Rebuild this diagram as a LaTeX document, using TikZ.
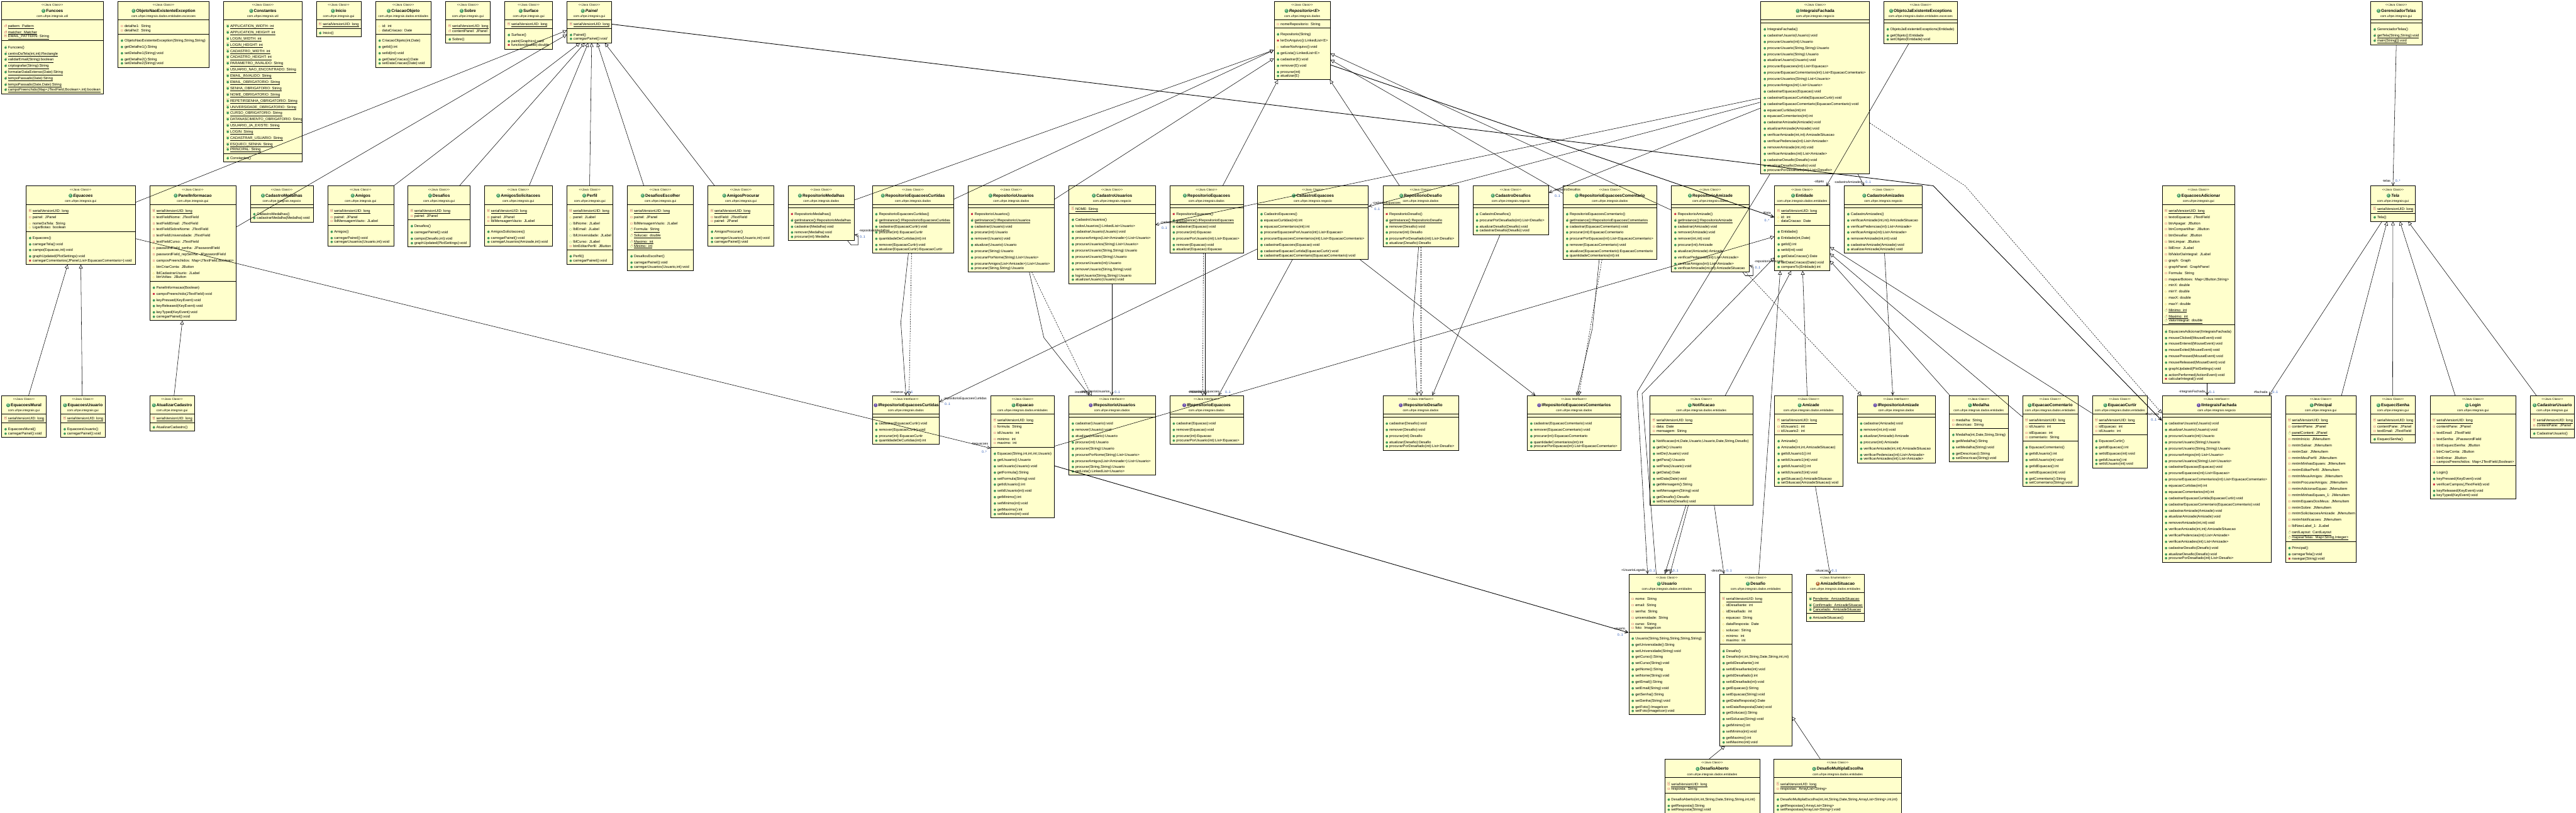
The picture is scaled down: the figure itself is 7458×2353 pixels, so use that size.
\documentclass[tikz,border=0pt]{standalone}
\usepackage{fontspec}
\setmainfont{Liberation Sans}
\newfontfamily\uifont{Liberation Sans}
\newfontfamily\symf{DejaVu Sans}
\usetikzlibrary{shapes.multipart,arrows.meta,calc}
\definecolor{boxfill}{HTML}{FFFFCC}
\definecolor{pubg}{HTML}{3E9A5C}
\definecolor{privr}{HTML}{D0304A}
\definecolor{protc}{HTML}{D8A000}
\definecolor{ifc}{HTML}{6A4FA8}
\definecolor{enc}{HTML}{B0602A}
\definecolor{multc}{HTML}{1E4FB0}
\newcommand\stL{<\kern0pt<}
\newcommand\stR{>\kern0pt>}
\newcommand\clsicon[2]{\tikz[baseline=-3.6pt]{\fill[#1] (0pt,0pt) circle (5.6pt);\pgftext{\textcolor{white}{\fontsize{7.5}{7.5}\selectfont\bfseries #2}}}}
\newcommand\kindC{\def\stname{Java Class}\def\iccol{pubg}\def\icl{C}}
\newcommand\kindI{\def\stname{Java Interface}\def\iccol{ifc}\def\icl{I}}
\newcommand\kindE{\def\stname{Java Enumeration}\def\iccol{enc}\def\icl{E}}
\newcommand\symg[2]{{\symf\fontsize{#1}{#1}\selectfont #2}}
\newcommand\ipub{\textcolor{pubg}{\symg{9}{●}}}
\newcommand\ipriv{\textcolor{privr}{\symg{11}{▫}}}
\newcommand\iprivm{\textcolor{privr}{\symg{11}{▪}}}
\newcommand\iprot{\textcolor{protc}{\symg{8}{◇}}}
\newcommand\ipkg{\textcolor{pubg}{\symg{8}{○}}}
\newcommand\supr[2]{\rlap{\kern3.5pt\raisebox{4pt}{\fontsize{6}{6}\selectfont\textcolor{#1}{#2}}}}
\newcommand\isf{\rlap{\raisebox{4pt}{\fontsize{6}{6}\selectfont\textcolor{privr}{S}\kern0.5pt\textcolor{pubg}{F}}}\ipriv}
\newcommand\isfpub{\rlap{\raisebox{4pt}{\fontsize{6}{6}\selectfont\textcolor{privr}{S}\kern0.5pt\textcolor{pubg}{F}}}\ipub}
\newcommand\mrow[2]{\par\noindent\hbox{\rule[-3pt]{0pt}{12pt}\makebox[15pt][l]{\hspace{4pt}#1}#2}}
\newcommand\urow[2]{\par\noindent\hbox{\rule[-3pt]{0pt}{12pt}\makebox[15pt][l]{\hspace{4pt}#1}\underline{#2}}}
\newcommand\mPub[1]{\mrow{\ipub}{#1}}
\newcommand\mCtor[1]{\mrow{\supr{pubg}{c}\ipub}{#1}}
\newcommand\mPCtor[1]{\mrow{\supr{pubg}{c}\iprivm}{#1}}
\newcommand\mPriv[1]{\mrow{\ipriv}{#1}}
\newcommand\mPrivM[1]{\mrow{\iprivm}{#1}}
\newcommand\mProt[1]{\mrow{\iprot}{#1}}
\newcommand\mPkg[1]{\mrow{\ipkg}{#1}}
\newcommand\mFPriv[1]{\mrow{\supr{pubg}{F}\ipriv}{#1}}
\newcommand\mSF[1]{\urow{\isf}{#1}}
\newcommand\mSFpub[1]{\urow{\isfpub}{#1}}
\newcommand\mSPub[1]{\urow{\supr{privr}{S}\ipub}{#1}}
\newcommand\mSPriv[1]{\urow{\supr{privr}{S}\ipriv}{#1}}
\newcommand\mSPkg[1]{\urow{\supr{privr}{S}\ipkg}{#1}}
\tikzset{
  umlbox/.style={draw=black,line width=1.1pt,fill=boxfill,rectangle split,rectangle split parts=3,inner xsep=4pt,inner ysep=4pt,font=\uifont},
  conn/.style={line width=1pt,draw=black},
  gen/.style={conn,-{Triangle[open,length=11pt,width=11pt]}},
  real/.style={gen,dash pattern=on 4pt off 3pt},
  assoc/.style={conn,-{Straight Barb[length=9pt,width=9pt]}},
  lbl/.style={font=\uifont\fontsize{9.5}{11}\selectfont,inner sep=1pt},
  mult/.style={lbl,text=multc},
}
\newcommand\umlbox[9]{%
  #5%
  \pgfmathsetmacro\boxtw{#4-8}%
  \node[umlbox,text width=\boxtw pt,anchor=north west] (#1) at (#2,#3) {%
    \centering\rule{0pt}{9pt}{\fontsize{8.5}{10}\selectfont\stL\stname\stR}\par
    {\fontsize{12}{18}\selectfont\bfseries\clsicon{\iccol}{\icl}\,#6\par}%
    {\fontsize{9}{15}\selectfont #7\rule[-2pt]{0pt}{0pt}\par}%
    \nodepart{second}\fontsize{10.5}{18}\selectfont #8%
    \nodepart{third}\fontsize{10.5}{18}\selectfont #9};}
\begin{document}
\begin{tikzpicture}[x=1pt,y=-1pt]
\path[use as bounding box,fill=white] (0,0) rectangle (7458,2353);
% ---------------- top row ----------------
\umlbox{funcoes}{4}{3}{294}{\kindC}{Funcoes}{com.ufrpe.integrais.util}
{\mSPriv{pattern: Pattern}\mSPriv{matcher: Matcher}\mSF{EMAIL\_PATTERN: String}}
{\mCtor{Funcoes()}\mSPub{centroDaTela(int,int):Rectangle}\mSPub{validarEmail(String):boolean}\mSPub{criptografar(String):String}\mSPub{formatarDataExtenso(Date):String}\mSPub{tempoPassado(Date):String}\mSPub{tempoPassado(Date,Date):String}\mSPub{campoPreenchido(Map<JTextField,Boolean>,int):boolean}}
\umlbox{objnao}{341}{3}{264}{\kindC}{ObjetoNaoExistenteException}{com.ufrpe.integrais.dados.entidades.excecoes}
{\mPriv{detalhe1: String}\mPriv{detalhe2: String}}
{\mCtor{ObjetoNaoExistenteException(String,String,String)}\mPub{getDetalhe1():String}\mPub{setDetalhe1(String):void}\mPub{getDetalhe2():String}\mPub{setDetalhe2(String):void}}
\umlbox{constantes}{647}{3}{227}{\kindC}{Constantes}{com.ufrpe.integrais.util}
{\mSFpub{APPLICATION\_WIDTH: int}\mSFpub{APPLICATION\_HEIGHT: int}\mSFpub{LOGIN\_WIDTH: int}\mSFpub{LOGIN\_HEIGHT: int}\mSFpub{CADASTRO\_WIDTH: int}\mSFpub{CADASTRO\_HEIGHT: int}\mSFpub{PARAMETRO\_INVALIDO: String}\mSFpub{USUARIO\_NAO\_ENCONTRADO: String}\mSFpub{EMAIL\_INVALIDO: String}\mSFpub{EMAIL\_OBRIGATORIO: String}\mSFpub{SENHA\_OBRIGATORIO: String}\mSFpub{NOME\_OBRIGATORIO: String}\mSFpub{REPETIRSENHA\_OBRIGATORIO: String}\mSFpub{UNIVERSIDADE\_OBRIGATORIO: String}\mSFpub{CURSO\_OBRIGATORIO: String}\mSFpub{DATANASCIMENTO\_OBRIGATORIO: String}\mSFpub{USUARIO\_JA\_EXISTE: String}\mSFpub{LOGIN: String}\mSFpub{CADASTRAR\_USUARIO: String}\mSFpub{ESQUECI\_SENHA: String}\mSFpub{PRINCIPAL: String}}
{\mCtor{Constantes()}}
\umlbox{inicio}{915}{3}{130}{\kindC}{Inicio}{com.ufrpe.integrais.gui}
{\mSF{serialVersionUID: long}}{\mCtor{Inicio()}}
\umlbox{criacao}{1087}{3}{160}{\kindC}{CriacaoObjeto}{com.ufrpe.integrais.dados.entidades}
{\mProt{id: int}\mProt{dataCriacao: Date}}
{\mCtor{CriacaoObjeto(int,Date)}\mPub{getId():int}\mPub{setId(int):void}\mPub{getDataCriacao():Date}\mPub{setDataCriacao(Date):void}}
\umlbox{sobre}{1290}{3}{128}{\kindC}{Sobre}{com.ufrpe.integrais.gui}
{\mSF{serialVersionUID: long}\mFPriv{contentPanel: JPanel}}{\mCtor{Sobre()}}
\umlbox{surface}{1461}{3}{138}{\kindC}{Surface}{com.ufrpe.integrais.gui}
{\mSF{serialVersionUID: long}}{\mCtor{Surface()}\mPub{paint(Graphics):void}\mPrivM{function(double):double}}
\umlbox{painel}{1641}{3}{129}{\kindC}{\itshape Painel}{com.ufrpe.integrais.gui}
{\mSF{serialVersionUID: long}}{\mCtor{Painel()}\mPub{\itshape carregarPainel():void}}
\umlbox{repositorio}{3688}{3}{163}{\kindC}{\itshape Repositorio<E>}{com.ufrpe.integrais.dados}
{\mPriv{nomeRepositorio: String}}
{\mCtor{Repositorio(String)}\mPrivM{lerDoArquivo():LinkedList<E>}\mProt{salvarNoArquivo():void}\mPub{getLista():LinkedList<E>}\mPub{cadastrar(E):void}\mPub{remover(E):void}\mPub{procurar(int)}\mPub{atualizar(E)}}
\umlbox{integraisfachada}{5097}{3}{315}{\kindC}{IntegraisFachada}{com.ufrpe.integrais.negocio}{}
{\mCtor{IntegraisFachada()}\mPub{cadastrarUsuario(Usuario):void}\mPub{procurarUsuario(int):Usuario}\mPub{procurarUsuario(String,String):Usuario}\mPub{procurarUsuario(String):Usuario}\mPub{atualizarUsuario(Usuario):void}\mPub{procurarEquacoes(int):List<Equacao>}\mPub{procurarEquacaoComentarios(int):List<EquacaoComentario>}\mPub{procurarUsuarios(String):List<Usuario>}\mPub{procurarAmigos(int):List<Usuario>}\mPub{cadastrarEquacao(Equacao):void}\mPub{cadastrarEquacaoCurtida(EquacaoCurtir):void}\mPub{cadastrarEquacaoComentario(EquacaoComentario):void}\mPub{equacaoCurtidas(int):int}\mPub{equacaoComentarios(int):int}\mPub{cadastrarAmizade(Amizade):void}\mPub{atualizarAmizade(Amizade):void}\mPub{verificarAmizade(int,int):AmizadeSituacao}\mPub{verificarPedencias(int):List<Amizade>}\mPub{removerAmizade(int,int):void}\mPub{verificarAmizades(int):List<Amizade>}\mPub{cadastrarDesafio(Desafio):void}\mPub{atualizarDesafio(Desafio):void}\mPub{procurarPorDesafiado(int):List<Desafio>}}
\umlbox{objja}{5453}{3}{214}{\kindC}{ObjetoJaExistenteExceptions}{com.ufrpe.integrais.dados.entidades.excecoes}{}
{\mCtor{ObjetoJaExistenteExceptions(Entidade)}\mPub{getObjeto():Entidade}\mPub{setObjeto(Entidade):void}}
\umlbox{gerenciador}{6863}{3}{148}{\kindC}{GerenciadorTelas}{com.ufrpe.integrais.gui}{}
{\mCtor{GerenciadorTelas()}\mSPub{getTela(String,String):void}\mSPub{main(String[]):void}}
% ---------------- middle row ----------------
\umlbox{equacoes}{75}{538}{316}{\kindC}{\itshape Equacoes}{com.ufrpe.integrais.gui}
{\mSF{serialVersionUID: long}\mPriv{painel: JPanel}\mProt{nomeDaTela: String}\mProt{LigarBotao: boolean}}
{\mCtor{Equacoes()}\mPub{carregarTela():void}\mPub{campo(Equacao,int):void}\mPub{graphUpdated(PlotSettings):void}\mPrivM{carregarComentarios(JPanel,List<EquacaoComentario>):void}}
\umlbox{panelinfo}{433}{538}{249}{\kindC}{PanelInformacao}{com.ufrpe.integrais.gui}
{\mSF{serialVersionUID: long}\mPriv{textFieldNome: JTextField}\mPriv{textFieldEmail: JTextField}\mPriv{textFieldSobreNome: JTextField}\mPriv{textFieldUniversidade: JTextField}\mPriv{textFieldCurso: JTextField}\mPriv{passwordField\_senha: JPasswordField}\mPriv{passwordField\_repSenha: JPasswordField}\mPriv{camposPreenchidos: Map<JTextField,Boolean>}\mProt{btnCriarConta: JButton}\mProt{lblCadastrarUsurio: JLabel}\mProt{btnVoltas: JButton}}
{\mCtor{PanelInformacao(Boolean)}\mPrivM{campoPreenchido(JTextField):void}\mPub{keyPressed(KeyEvent):void}\mPub{keyReleased(KeyEvent):void}\mPub{keyTyped(KeyEvent):void}\mPub{carregarPainel():void}}
\umlbox{cadmedalhas}{724}{538}{182}{\kindC}{CadastroMedalhas}{com.ufrpe.integrais.negocio}{}
{\mCtor{CadastroMedalhas()}\mPub{cadastrarMedalha(Medalha):void}}
\umlbox{amigos}{948}{538}{191}{\kindC}{Amigos}{com.ufrpe.integrais.gui}
{\mSF{serialVersionUID: long}\mPriv{painel: JPanel}\mPriv{lblMensagemVazio: JLabel}}
{\mCtor{Amigos()}\mPub{carregarPainel():void}\mPub{carregarUsuarios(Usuario,int):void}}
\umlbox{desafios}{1180}{538}{181}{\kindC}{Desafios}{com.ufrpe.integrais.gui}
{\mSF{serialVersionUID: long}\mPriv{painel: JPanel}}
{\mCtor{Desafios()}\mPub{carregarPainel():void}\mPub{campo(Desafio,int):void}\mPub{graphUpdated(PlotSettings):void}}
\umlbox{amigossol}{1402}{538}{196}{\kindC}{AmigosSolicitacoes}{com.ufrpe.integrais.gui}
{\mSF{serialVersionUID: long}\mPriv{painel: JPanel}\mPriv{lblMensagemVazio: JLabel}}
{\mCtor{AmigosSolicitacoes()}\mPub{carregarPainel():void}\mPub{carregarUsuarios(Amizade,int):void}}
\umlbox{perfil}{1640}{538}{134}{\kindC}{Perfil}{com.ufrpe.integrais.gui}
{\mSF{serialVersionUID: long}\mProt{panel: JLabel}\mPkg{lblNome: JLabel}\mPkg{lblEmail: JLabel}\mPkg{lblUniversidade: JLabel}\mPkg{lblCurso: JLabel}\mPriv{btnEditarPerfil: JButton}}
{\mCtor{Perfil()}\mPub{carregarPainel():void}}
\umlbox{desafiosesc}{1816}{538}{191}{\kindC}{DesafiosEscolher}{com.ufrpe.integrais.gui}
{\mSF{serialVersionUID: long}\mPriv{painel: JPanel}\mPriv{lblMensagemVazio: JLabel}\mSPkg{Formula: String}\mSPkg{Solucao: double}\mSPkg{Maximo: int}\mSPkg{Minimo: int}}
{\mCtor{DesafiosEscolher()}\mPub{carregarPainel():void}\mPub{carregarUsuarios(Usuario,int):void}}
\umlbox{amigosproc}{2049}{538}{191}{\kindC}{AmigosProcurar}{com.ufrpe.integrais.gui}
{\mSF{serialVersionUID: long}\mPriv{textField: JTextField}\mPriv{painel: JPanel}}
{\mCtor{AmigosProcurar()}\mPub{carregarUsuarios(Usuario,int):void}\mPub{carregarPainel():void}}
\umlbox{repomedalhas}{2281}{538}{192}{\kindC}{RepositorioMedalhas}{com.ufrpe.integrais.dados}{}
{\mPCtor{RepositorioMedalhas()}\mSPub{getInstance():RepositorioMedalhas}\mPub{cadastrar(Medalha):void}\mPub{remover(Medalha):void}\mPub{procurar(int):Medalha}}
\umlbox{repoeqcurt}{2525}{538}{235}{\kindC}{RepositorioEquacoesCurtidas}{com.ufrpe.integrais.dados}{}
{\mCtor{RepositorioEquacoesCurtidas()}\mSPub{getInstance():IRepositorioEquacoesCurtidas}\mPub{cadastrar(EquacaoCurtir):void}\mPub{procurar(int):EquacaoCurtir}\mPub{quantidadeDeCurtidas(int):int}\mPub{remover(EquacaoCurtir):void}\mPub{atualizar(EquacaoCurtir):EquacaoCurtir}}
\umlbox{repousuarios}{2802}{538}{250}{\kindC}{RepositorioUsuarios}{com.ufrpe.integrais.dados}{}
{\mPCtor{RepositorioUsuarios()}\mSPub{getInstance():IRepositorioUsuarios}\mPub{cadastrar(Usuario):void}\mPub{procurar(int):Usuario}\mPub{remover(Usuario):void}\mPub{atualizar(Usuario):Usuario}\mPub{procurar(String):Usuario}\mPub{procurarPorNome(String):List<Usuario>}\mPub{procurarAmigos(List<Amizade>):List<Usuario>}\mPub{procurar(String,String):Usuario}}
\umlbox{cadusuarios}{3094}{538}{250}{\kindC}{CadastroUsuarios}{com.ufrpe.integrais.negocio}
{\mSF{NOME: String}}
{\mCtor{CadastroUsuarios()}\mPub{todosUsuarios():LinkedList<Usuario>}\mPub{cadastrarUsuario(Usuario):void}\mPub{procurarAmigos(List<Amizade>):List<Usuario>}\mPub{procurarUsuarios(String):List<Usuario>}\mPub{procurarUsuario(String,String):Usuario}\mPub{procurarUsuario(String):Usuario}\mPub{procurarUsuario(int):Usuario}\mPub{removerUsuario(String,String):void}\mPub{loginUsuario(String,String):Usuario}\mPub{atualizarUsuario(Usuario):void}}
\umlbox{repoequacoes}{3386}{538}{213}{\kindC}{RepositorioEquacoes}{com.ufrpe.integrais.dados}{}
{\mPCtor{RepositorioEquacoes()}\mSPub{getInstance():IRepositorioEquacoes}\mPub{cadastrar(Equacao):void}\mPub{procurar(int):Equacao}\mPub{procurarPorUsuario(int):List<Equacao>}\mPub{remover(Equacao):void}\mPub{atualizar(Equacao):Equacao}}
\umlbox{cadequacoes}{3640}{538}{321}{\kindC}{CadastroEquacoes}{com.ufrpe.integrais.negocio}{}
{\mCtor{CadastroEquacoes()}\mPub{equacaoCurtidas(int):int}\mPub{equacaoComentarios(int):int}\mPub{procurarEquacoesPorUsuario(int):List<Equacao>}\mPub{procurarEquacoesComentarios(int):List<EquacaoComentario>}\mPub{cadastrarEquacoes(Equacao):void}\mPub{cadastrarEquacaoCurtida(EquacaoCurtir):void}\mPub{cadastrarEquacaoComentario(EquacaoComentario):void}}
\umlbox{repodesafio}{4003}{538}{219}{\kindC}{RepositorioDesafio}{com.ufrpe.integrais.dados}{}
{\mPCtor{RepositorioDesafio()}\mSPub{getInstance():RepositorioDesafio}\mPub{remover(Desafio):void}\mPub{procurar(int):Desafio}\mPub{procurarPorDesafiado(int):List<Desafio>}\mPub{atualizar(Desafio):Desafio}}
\umlbox{caddesafios}{4264}{538}{219}{\kindC}{CadastroDesafios}{com.ufrpe.integrais.negocio}{}
{\mCtor{CadastroDesafios()}\mPub{procurarPorDesafiado(int):List<Desafio>}\mPub{atualizarDesafio(Desafio):void}\mPub{cadastrarDesafio(Desafio):void}}
\umlbox{repoeqcom}{4525}{538}{271}{\kindC}{RepositorioEquacoesComentario}{com.ufrpe.integrais.dados}{}
{\mCtor{RepositorioEquacoesComentario()}\mSPub{getInstance():IRepositorioEquacoesComentarios}\mPub{cadastrar(EquacaoComentario):void}\mPub{procurar(int):EquacaoComentario}\mPub{procurarPorEquacao(int):List<EquacaoComentario>}\mPub{remover(EquacaoComentario):void}\mPub{atualizar(EquacaoComentario):EquacaoComentario}\mPub{quantidadeComentarios(int):int}}
\umlbox{repoamizade}{4838}{538}{226}{\kindC}{RepositorioAmizade}{com.ufrpe.integrais.dados}{}
{\mPCtor{RepositorioAmizade()}\mSPub{getInstance():RepositorioAmizade}\mPub{cadastrar(Amizade):void}\mPub{remover(Amizade):void}\mPub{remover(int,int):void}\mPub{procurar(int):Amizade}\mPub{atualizar(Amizade):Amizade}\mPub{verificarPedencias(int):List<Amizade>}\mPub{verificarAmigos(int):List<Amizade>}\mPub{verificarAmizade(int,int):AmizadeSituacao}}
\umlbox{entidade}{5137}{538}{160}{\kindC}{Entidade}{com.ufrpe.integrais.dados.entidades}
{\mSF{serialVersionUID: long}\mProt{id: int}\mProt{dataCriacao: Date}}
{\mCtor{Entidade()}\mCtor{Entidade(int,Date)}\mPub{getId():int}\mPub{setId(int):void}\mPub{getDataCriacao():Date}\mPub{setDataCriacao(Date):void}\mPub{compareTo(Entidade):int}}
\umlbox{cadamizades}{5339}{538}{226}{\kindC}{CadastroAmizades}{com.ufrpe.integrais.negocio}{}
{\mCtor{CadastroAmizades()}\mPub{verificarAmizade(int,int):AmizadeSituacao}\mPub{verificarPedencias(int):List<Amizade>}\mPub{verificarAmigos(int):List<Amizade>}\mPub{removerAmizade(int,int):void}\mPub{cadastrarAmizade(Amizade):void}\mPub{atualizarAmizade(Amizade):void}}
\umlbox{eqadicionar}{6259}{538}{211}{\kindC}{EquacoesAdicionar}{com.ufrpe.integrais.gui}
{\mSF{serialVersionUID: long}\mPriv{textoEquacao: JTextField}\mPriv{btnApagar: JButton}\mPriv{btnCompartilhar: JButton}\mPriv{btnDesafiar: JButton}\mPriv{btnLimpar: JButton}\mPriv{lblError: JLabel}\mPriv{lblValorDaIntegral: JLabel}\mPriv{graph: Graph}\mPriv{graphPanel: GraphPanel}\mPriv{Formula: String}\mPriv{mapearBotoes: Map<JButton,String>}\mProt{minX: double}\mProt{minY: double}\mProt{maxX: double}\mProt{maxY: double}\mSPkg{Minimo: int}\mSPkg{Maximo: int}\mSPkg{ValorIntegral: double}}
{\mCtor{EquacoesAdicionar(IIntegraisFachada)}\mPub{mouseClicked(MouseEvent):void}\mPub{mouseEntered(MouseEvent):void}\mPub{mouseExited(MouseEvent):void}\mPub{mousePressed(MouseEvent):void}\mPub{mouseReleased(MouseEvent):void}\mPub{graphUpdated(PlotSettings):void}\mPub{actionPerformed(ActionEvent):void}\mPrivM{calcularIntegral():void}}
\umlbox{tela}{6863}{538}{129}{\kindC}{\itshape Tela}{com.ufrpe.integrais.gui}
{\mSF{serialVersionUID: long}}{\mCtor{Tela()}}
% ---------------- bottom row ----------------
\umlbox{eqmural}{4}{1145}{129}{\kindC}{EquacoesMural}{com.ufrpe.integrais.gui}
{\mSF{serialVersionUID: long}}{\mCtor{EquacoesMural()}\mPub{carregarPainel():void}}
\umlbox{equsuario}{175}{1145}{129}{\kindC}{EquacoesUsuario}{com.ufrpe.integrais.gui}
{\mSF{serialVersionUID: long}}{\mCtor{EquacoesUsuario()}\mPub{carregarPainel():void}}
\umlbox{atualizar}{433}{1145}{129}{\kindC}{AtualizarCadastro}{com.ufrpe.integrais.gui}
{\mSF{serialVersionUID: long}}{\mCtor{AtualizarCadastro()}}
\umlbox{irepoeqcurt}{2525}{1145}{194}{\kindI}{IRepositorioEquacoesCurtidas}{com.ufrpe.integrais.dados}{}
{\mPub{cadastrar(EquacaoCurtir):void}\mPub{remover(EquacaoCurtir):void}\mPub{procurar(int):EquacaoCurtir}\mPub{quantidadeDeCurtidas(int):int}}
\umlbox{equacao}{2868}{1145}{184}{\kindC}{Equacao}{com.ufrpe.integrais.dados.entidades}
{\mSF{serialVersionUID: long}\mPriv{formula: String}\mPriv{idUsuario: int}\mPriv{minimo: int}\mPriv{maximo: int}}
{\mCtor{Equacao(String,int,int,int,Usuario)}\mPub{getUsuario():Usuario}\mPub{setUsuario(Usuario):void}\mPub{getFormula():String}\mPub{setFormula(String):void}\mPub{getIdUsuario():int}\mPub{setIdUsuario(int):void}\mPub{getMinimo():int}\mPub{setMinimo(int):void}\mPub{getMaximo():int}\mPub{setMaximo(int):void}}
\umlbox{irepousuarios}{3094}{1145}{250}{\kindI}{IRepositorioUsuarios}{com.ufrpe.integrais.dados}{}
{\mPub{cadastrar(Usuario):void}\mPub{remover(Usuario):void}\mPub{atualizar(Usuario):Usuario}\mPub{procurar(int):Usuario}\mPub{procurar(String):Usuario}\mPub{procurarPorNome(String):List<Usuario>}\mPub{procurarAmigos(List<Amizade>):List<Usuario>}\mPub{procurar(String,String):Usuario}\mPub{getLista():LinkedList<Usuario>}}
\umlbox{irepoequacoes}{3386}{1145}{213}{\kindI}{IRepositorioEquacoes}{com.ufrpe.integrais.dados}{}
{\mPub{cadastrar(Equacao):void}\mPub{remover(Equacao):void}\mPub{procurar(int):Equacao}\mPub{procurarPorUsuario(int):List<Equacao>}}
\umlbox{irepodesafio}{4003}{1145}{219}{\kindI}{IRepositorioDesafio}{com.ufrpe.integrais.dados}{}
{\mPub{cadastrar(Desafio):void}\mPub{remover(Desafio):void}\mPub{procurar(int):Desafio}\mPub{atualizar(Desafio):Desafio}\mPub{procurarPorDesafiado(int):List<Desafio>}}
\umlbox{irepoeqcom}{4421}{1145}{271}{\kindI}{IRepositorioEquacoesComentarios}{com.ufrpe.integrais.dados}{}
{\mPub{cadastrar(EquacaoComentario):void}\mPub{remover(EquacaoComentario):void}\mPub{procurar(int):EquacaoComentario}\mPub{quantidadeComentarios(int):int}\mPub{procurarPorEquacao(int):List<EquacaoComentario>}}
\umlbox{notificacao}{4776}{1145}{298}{\kindC}{Notificacao}{com.ufrpe.integrais.dados.entidades}
{\mSF{serialVersionUID: long}\mPriv{data: Date}\mPriv{mensagem: String}}
{\mCtor{Notificacao(int,Date,Usuario,Usuario,Date,String,Desafio)}\mPub{getDe():Usuario}\mPub{setDe(Usuario):void}\mPub{getPara():Usuario}\mPub{setPara(Usuario):void}\mPub{getData():Date}\mPub{setData(Date):void}\mPub{getMensagem():String}\mPub{setMensagem(String):void}\mPub{getDesafio():Desafio}\mPub{setDesafio(Desafio):void}}
\umlbox{amizade}{5137}{1145}{197}{\kindC}{Amizade}{com.ufrpe.integrais.dados.entidades}
{\mSF{serialVersionUID: long}\mPriv{idUsuario1: int}\mPriv{idUsuario2: int}}
{\mCtor{Amizade()}\mCtor{Amizade(int,int,AmizadeSituacao)}\mPub{getIdUsuario1():int}\mPub{setIdUsuario1(int):void}\mPub{getIdUsuario2():int}\mPub{setIdUsuario2(int):void}\mPub{getSituacao():AmizadeSituacao}\mPub{setSituacao(AmizadeSituacao):void}}
\umlbox{irepoamizade}{5376}{1145}{226}{\kindI}{IRepositorioAmizade}{com.ufrpe.integrais.dados}{}
{\mPub{cadastrar(Amizade):void}\mPub{remover(int,int):void}\mPub{atualizar(Amizade):Amizade}\mPub{procurar(int):Amizade}\mPub{verificarAmizade(int,int):AmizadeSituacao}\mPub{verificarPedencias(int):List<Amizade>}\mPub{verificarAmizades(int):List<Amizade>}}
\umlbox{medalha}{5643}{1145}{170}{\kindC}{Medalha}{com.ufrpe.integrais.dados.entidades}
{\mPriv{medalha: String}\mPriv{descricao: String}}
{\mCtor{Medalha(int,Date,String,String)}\mPub{getMedalha():String}\mPub{setMedalha(String):void}\mPub{getDescricao():String}\mPub{setDescricao(String):void}}
\umlbox{eqcomentario}{5855}{1145}{160}{\kindC}{EquacaoComentario}{com.ufrpe.integrais.dados.entidades}
{\mSF{serialVersionUID: long}\mPriv{idUsuario: int}\mPriv{idEquacao: int}\mPriv{comentario: String}}
{\mCtor{EquacaoComentario()}\mPub{getIdUsuario():int}\mPub{setIdUsuario(int):void}\mPub{getIdEquacao():int}\mPub{setIdEquacao(int):void}\mPub{getComentario():String}\mPub{setComentario(String):void}}
\umlbox{eqcurtir}{6057}{1145}{160}{\kindC}{EquacaoCurtir}{com.ufrpe.integrais.dados.entidades}
{\mSF{serialVersionUID: long}\mPriv{idEquacao: int}\mPriv{idUsuario: int}}
{\mCtor{EquacaoCurtir()}\mPub{getIdEquacao():int}\mPub{setIdEquacao(int):void}\mPub{getIdUsuario():int}\mPub{setIdUsuario(int):void}}
\umlbox{iintfachada}{6259}{1145}{316}{\kindI}{IIntegraisFachada}{com.ufrpe.integrais.negocio}{}
{\mPub{cadastrarUsuario(Usuario):void}\mPub{atualizarUsuario(Usuario):void}\mPub{procurarUsuario(int):Usuario}\mPub{procurarUsuario(String):Usuario}\mPub{procurarUsuario(String,String):Usuario}\mPub{procurarAmigos(int):List<Usuario>}\mPub{procurarUsuarios(String):List<Usuario>}\mPub{cadastrarEquacao(Equacao):void}\mPub{procurarEquacoes(int):List<Equacao>}\mPub{procurarEquacaoComentarios(int):List<EquacaoComentario>}\mPub{equacaoCurtidas(int):int}\mPub{equacaoComentarios(int):int}\mPub{cadastrarEquacaoCurtida(EquacaoCurtir):void}\mPub{cadastrarEquacaoComentario(EquacaoComentario):void}\mPub{cadastrarAmizade(Amizade):void}\mPub{atualizarAmizade(Amizade):void}\mPub{removerAmizade(int,int):void}\mPub{verificarAmizade(int,int):AmizadeSituacao}\mPub{verificarPedencias(int):List<Amizade>}\mPub{verificarAmizades(int):List<Amizade>}\mPub{cadastrarDesafio(Desafio):void}\mPub{atualizarDesafio(Desafio):void}\mPub{procurarPorDesafiado(int):List<Desafio>}}
\umlbox{principal}{6616}{1145}{205}{\kindC}{Principal}{com.ufrpe.integrais.gui}
{\mSF{serialVersionUID: long}\mPriv{contentPane: JPanel}\mSPkg{panelContent: JPanel}\mPriv{mntmInicio: JMenuItem}\mPriv{mntmSalvar: JMenuItem}\mPriv{mntmSair: JMenuItem}\mPriv{mntmMeuPerfil: JMenuItem}\mPriv{mntmMinhasEquaes: JMenuItem}\mPriv{mntmEditarPerfil: JMenuItem}\mPriv{mntmMeusAmigos: JMenuItem}\mPriv{mntmProcurarAmigos: JMenuItem}\mPriv{mntmAdicionarEquao: JMenuItem}\mPriv{mntmMinhasEquaes\_1: JMenuItem}\mPriv{mntmEquaesDosMeus: JMenuItem}\mPriv{mntmSobre: JMenuItem}\mPriv{mntmSolicitacoesAmizade: JMenuItem}\mPriv{mntmNotificacoes: JMenuItem}\mPriv{lblNewLabel\_1: JLabel}\mSPkg{cardLayout: CardLayout}\mSPkg{mapearTelas: Map<String,Integer>}}
{\mCtor{Principal()}\mPub{carregarTela():void}\mPrivM{navegar(String):void}}
\umlbox{esqueci}{6863}{1145}{129}{\kindC}{EsqueciSenha}{com.ufrpe.integrais.gui}
{\mSF{serialVersionUID: long}\mPriv{contentPane: JPanel}\mPriv{textEmail: JTextField}}{\mCtor{EsqueciSenha()}}
\umlbox{login}{7035}{1145}{248}{\kindC}{Login}{com.ufrpe.integrais.gui}
{\mSF{serialVersionUID: long}\mPriv{contentPane: JPanel}\mPriv{textEmail: JTextField}\mPriv{textSenha: JPasswordField}\mPriv{btnEsqueciSenha: JButton}\mPriv{btnCriarConta: JButton}\mPriv{btnEntrar: JButton}\mPriv{camposPreenchidos: Map<JTextField,Boolean>}}
{\mCtor{Login()}\mPub{keyPressed(KeyEvent):void}\mPrivM{verificarCampos(JTextField):void}\mPub{keyReleased(KeyEvent):void}\mPub{keyTyped(KeyEvent):void}}
\umlbox{cadastrarusuario}{7325}{1145}{128}{\kindC}{CadastrarUsuario}{com.ufrpe.integrais.gui}
{\mSF{serialVersionUID: long}\mPriv{contentPane: JPanel}}{\mCtor{CadastrarUsuario()}}
% ---------------- lower ----------------
\umlbox{usuario}{4715}{1662}{221}{\kindC}{Usuario}{com.ufrpe.integrais.dados.entidades}
{\mPriv{nome: String}\mPriv{email: String}\mPriv{senha: String}\mPriv{universidade: String}\mPriv{curso: String}\mPriv{foto: ImageIcon}}
{\mCtor{Usuario(String,String,String,String,String)}\mPub{getUniversidade():String}\mPub{setUniversidade(String):void}\mPub{getCurso():String}\mPub{setCurso(String):void}\mPub{getNome():String}\mPub{setNome(String):void}\mPub{getEmail():String}\mPub{setEmail(String):void}\mPub{getSenha():String}\mPub{setSenha(String):void}\mPub{getFoto():ImageIcon}\mPub{setFoto(ImageIcon):void}}
\umlbox{desafio}{4978}{1662}{209}{\kindC}{Desafio}{com.ufrpe.integrais.dados.entidades}
{\mSF{serialVersionUID: long}\mProt{idDesafiante: int}\mProt{idDesafiado: int}\mProt{equacao: String}\mProt{dataResposta: Date}\mProt{solucao: String}\mProt{minimo: int}\mProt{maximo: int}}
{\mCtor{Desafio()}\mCtor{Desafio(int,int,String,Date,String,int,int)}\mPub{getIdDesafiante():int}\mPub{setIdDesafiante(int):void}\mPub{getIdDesafiado():int}\mPub{setIdDesafiado(int):void}\mPub{getEquacao():String}\mPub{setEquacao(String):void}\mPub{getDataResposta():Date}\mPub{setDataResposta(Date):void}\mPub{getSolucao():String}\mPub{setSolucao(String):void}\mPub{getMinimo():int}\mPub{setMinimo(int):void}\mPub{getMaximo():int}\mPub{setMaximo(int):void}}
\umlbox{amizadesit}{5229}{1662}{168}{\kindE}{AmizadeSituacao}{com.ufrpe.integrais.dados.entidades}
{\mSFpub{Pendente: AmizadeSituacao}\mSFpub{Confirmado: AmizadeSituacao}\mSFpub{Cancelado: AmizadeSituacao}}
{\mCtor{AmizadeSituacao()}}
\umlbox{desafioaberto}{4819}{2198}{275}{\kindC}{DesafioAberto}{com.ufrpe.integrais.dados.entidades}
{\mSF{serialVersionUID: long}\mPriv{resposta: String}}
{\mCtor{DesafioAberto(int,int,String,Date,String,String,int,int)}\mPub{getResposta():String}\mPub{setResposta(String):void}}
\umlbox{desafiomult}{5135}{2198}{370}{\kindC}{DesafioMultiplaEscolha}{com.ufrpe.integrais.dados.entidades}
{\mSF{serialVersionUID: long}\mPriv{respostas: ArrayList<String>}}
{\mCtor{DesafioMultiplaEscolha(int,int,String,Date,String,ArrayList<String>,int,int)}\mPub{getRespostas():ArrayList<String>}\mPub{setRespostas(ArrayList<String>):void}}
% ================= connectors =================
% Painel hierarchy
\draw[gen] ($(equacoes.north east)+(0,48)$) -- ($(painel.north west)+(0,85)$);
\draw[gen] ($(panelinfo.north east)+(0,120)$) -- ($(painel.north west)+(0,97)$);
\draw[gen] (amigos.north east) -- ($(painel.south west)+(38,0)$);
\draw[gen] ($(desafios.north east)+(-32,0)$) -- ($(painel.south west)+(52,0)$);
\draw[gen] ($(amigossol.north west)+(130,0)$) -- ($(painel.south west)+(62,0)$);
\draw[gen] ($(perfil.north west)+(67,0)$) -- ($(painel.south west)+(72,0)$);
\draw[gen] ($(desafiosesc.north west)+(48,0)$) -- ($(painel.south west)+(88,0)$);
\draw[gen] ($(amigosproc.north west)+(20,0)$) -- ($(painel.south west)+(110,0)$);
\draw[gen] ($(eqmural.north west)+(79,0)$) -- ($(equacoes.south west)+(121,0)$);
\draw[gen] ($(equsuario.north west)+(63,0)$) -- ($(equacoes.south west)+(159,0)$);
\draw[gen] ($(atualizar.north west)+(71,0)$) -- ($(panelinfo.south west)+(95,0)$);
% Tela hierarchy
\draw[gen] ($(principal.north west)+(163,0)$) -- ($(tela.south west)+(48,0)$);
\draw[gen] ($(esqueci.north west)+(64,0)$) -- ($(tela.south west)+(65,0)$);
\draw[gen] ($(login.north west)+(73,0)$) -- ($(tela.south west)+(85,0)$);
\draw[gen] ($(cadastrarusuario.north west)+(18,0)$) -- ($(tela.south west)+(109,0)$);
\draw[assoc] (gerenciador.south) -- (tela.north);
\draw[assoc] ($(tela.south west)+(33,0)$) -- ($(iintfachada.north west)+(310,0)$);
\draw[assoc] ($(eqadicionar.south west)+(131,0)$) -- ($(iintfachada.north west)+(131,0)$);
\draw[assoc,line width=1.6pt] ($(painel.north east)+(0,67)$) -- ($(cadamizades.north east)+(31,0)$) -- ($(iintfachada.north west)+(0,73)$);
\draw[real] ($(integraisfachada.north east)+(0,353)$) -- ($(objja.north east)+(21,535)$) -- ($(iintfachada.north west)+(0,52)$);
% facade
\draw[assoc] ($(integraisfachada.north west)+(0,281)$) -- ($(cadusuarios.north east)+(0,113)$);
\draw[assoc] ($(integraisfachada.north west)+(0,293)$) -- ($(cadequacoes.north east)+(0,60)$);
\draw[assoc] ($(integraisfachada.north west)+(0,310)$) -- ($(caddesafios.north east)+(0,20)$);
\draw[assoc] ($(integraisfachada.south west)+(282,0)$) -- ($(cadamizades.north west)+(58,0)$);
\draw[assoc] ($(integraisfachada.south west)+(27,0)$) -- ($(notificacao.north west)+(-36,-10)$) -- ($(usuario.north west)+(55,0)$);
\draw[assoc] ($(objja.south west)+(73,0)$) -- ($(entidade.north west)+(151,0)$);
% Repositorio hierarchy
\draw[assoc,line width=1.6pt] ($(repositorio.north east)+(0,185)$) -- ($(entidade.north west)+(0,91)$);
\draw[gen] ($(repomedalhas.north east)+(0,41)$) -- ($(repositorio.north west)+(0,142)$);
\draw[gen] ($(repoeqcurt.north east)+(0,39)$) -- ($(repositorio.north west)+(0,142)$);
\draw[gen] ($(repousuarios.north east)+(0,39)$) -- ($(repositorio.north west)+(0,166)$);
\draw[gen] ($(repoequacoes.north west)+(154,0)$) -- ($(repositorio.south west)+(12,0)$);
\draw[gen] ($(repodesafio.north west)+(49,0)$) -- ($(repositorio.south east)+(-2,0)$);
\draw[gen] ($(repoeqcom.north west)+(0,22)$) -- ($(repositorio.north east)+(0,170)$);
\draw[gen] ($(repoamizade.north west)+(0,70)$) -- ($(repositorio.north east)+(0,152)$);
% interfaces
\draw[real] ($(repoeqcurt.south west)+(114,0)$) -- ($(irepoeqcurt.north west)+(107,0)$);
\draw[assoc] ($(repoeqcurt.south west)+(105,0)$) -- ($(repoeqcurt.south west)+(83,200)$) -- ($(irepoeqcurt.north west)+(98,0)$);
\draw[real] ($(repousuarios.south west)+(185,0)$) -- ($(irepousuarios.north west)+(66,0)$);
\draw[assoc] ($(repousuarios.south west)+(178,0)$) -- ($(repousuarios.south west)+(220,190)$) -- ($(irepousuarios.north west)+(60,0)$);
\draw[assoc] ($(cadusuarios.south west)+(125,0)$) -- ($(irepousuarios.north west)+(125,0)$);
\draw[real] ($(repoequacoes.south west)+(98,0)$) -- ($(irepoequacoes.north west)+(96,0)$);
\draw[assoc] ($(repoequacoes.south west)+(104,0)$) -- ($(irepoequacoes.north west)+(104,0)$);
\draw[assoc] ($(cadequacoes.south west)+(102,0)$) -- ($(irepoequacoes.north west)+(142,0)$);
\draw[assoc] ($(cadequacoes.north west)+(0,183)$) -- ($(irepoeqcurt.north east)+(0,19)$);
\draw[assoc] ($(cadequacoes.south west)+(297,0)$) -- ($(irepoeqcom.north west)+(24,0)$);
\draw[real] ($(repodesafio.south west)+(111,0)$) -- ($(irepodesafio.north west)+(111,0)$);
\draw[assoc] ($(repodesafio.south west)+(104,0)$) -- ($(repodesafio.south west)+(88,210)$) -- ($(irepodesafio.north west)+(100,0)$);
\draw[assoc] ($(caddesafios.south west)+(79,0)$) -- ($(irepodesafio.north west)+(144,0)$);
\draw[real] ($(repoeqcom.south west)+(113,0)$) -- ($(irepoeqcom.north west)+(150,0)$);
\draw[assoc] ($(repoeqcom.south west)+(105,0)$) -- ($(repoeqcom.south west)+(85,200)$) -- ($(irepoeqcom.north west)+(144,0)$);
\draw[real] ($(repoamizade.south east)+(-12,0)$) -- ($(irepoamizade.north west)+(13,0)$);
\draw[assoc] ($(cadamizades.south west)+(117,0)$) -- ($(irepoamizade.north west)+(104,0)$);
\draw[assoc] ($(repomedalhas.south east)+(-20,0)$) -- ++(10,12) -- ++(20,0) -- ++(0,-28) -- ($(repomedalhas.south east)+(0,-18)$);
\draw[assoc] ($(repoamizade.south east)+(-20,0)$) -- ++(8,11) -- ++(22,0) -- ++(0,-26) -- ($(repoamizade.south east)+(0,-19)$);
% entities
\draw[gen] ($(equacao.north east)+(0,147)$) -- ($(entidade.north west)+(0,147)$);
\draw[gen] ($(usuario.north west)+(80,0)$) -- ($(notificacao.north west)+(-22,-5)$) -- ($(entidade.north west)+(0,208)$);
\draw[gen] ($(notificacao.north west)+(219,0)$) -- ($(entidade.south west)+(49,0)$);
\draw[gen] ($(desafio.north west)+(114,0)$) -- ($(entidade.south west)+(17,0)$);
\draw[gen] ($(amizade.north west)+(95,0)$) -- ($(entidade.south west)+(82,0)$);
\draw[gen] ($(medalha.north west)+(2,0)$) -- ($(entidade.north east)+(0,217)$);
\draw[gen] ($(eqcomentario.north west)+(0,62)$) -- ($(entidade.north east)+(0,196)$);
\draw[gen] ($(eqcurtir.north west)+(0,52)$) -- ($(entidade.north east)+(0,177)$);
\draw[assoc] ($(notificacao.south west)+(187,0)$) -- ($(desafio.north west)+(13,0)$);
\draw[assoc] ($(notificacao.south west)+(105,0)$) -- ($(usuario.north west)+(105,0)$);
\draw[assoc] ($(notificacao.south west)+(112,0)$) -- ($(usuario.north west)+(120,0)$);
\draw[assoc] ($(amizade.south west)+(119,0)$) -- ($(amizadesit.north west)+(69,0)$);
\draw[assoc,line width=1.6pt] ($(equacao.north east)+(0,204)$) -- ($(usuario.north west)+(0,170)$);
\draw[assoc] ($(equacoes.north east)+(0,153)$) -- ($(equacao.north west)+(0,153)$);
\draw[gen] ($(desafioaberto.north west)+(129,0)$) -- ($(desafio.south west)+(16,0)$);
\draw[gen] ($(desafiomult.north west)+(135,0)$) -- ($(desafio.north east)+(0,413)$);
% ================= labels =================
\node[lbl,anchor=south east] (l1) at (6922,528) {-telas};
\node[mult,anchor=south west] (l2) at (6934,528) {0..*};
\node[lbl,anchor=south east] (l3) at (6566,1140) {\#fachada};
\node[mult,anchor=south west] (l4) at (6578,1140) {0..1};
\node[lbl,anchor=south east] (l5) at (6385,1140) {-integraisFachada};
\node[mult,anchor=south west] (l6) at (6395,1140) {0..1};
\node[lbl,anchor=south east] (l7) at (6252,1204) {\#fachada};
\node[mult,anchor=north east] (l8) at (6245,1212) {0..1};
\node[lbl,anchor=south west] (l9) at (3358,648) {-cadastroUsuarios};
\node[mult,anchor=north west] (l10) at (3362,656) {0..1};
\node[lbl,anchor=south west] (l11) at (3972,594) {-cadastroEquacoes};
\node[mult,anchor=north west] (l12) at (3978,602) {0..1};
\node[lbl,anchor=south west] (l13) at (4498,554) {-cadastroDesafios};
\node[mult,anchor=north west] (l14) at (4500,563) {0..1};
\node[lbl,anchor=south east] (l15) at (5282,532) {-objeto};
\node[lbl,anchor=south east] (l16) at (5392,532) {-cadastroAmizades};
\node[mult,anchor=south west] (l17) at (5400,532) {0..1};
\node[lbl,anchor=south east] (l18) at (4765,1658) {+UsuarioLogado};
\node[mult,anchor=south west] (l19) at (4775,1658) {0..1};
\node[lbl,anchor=south east] (l20) at (4832,1658) {-de};
\node[lbl,anchor=south east] (l21) at (4842,1658) {-para};
\node[mult,anchor=south west] (l22) at (4842,1658) {0..1};
\node[lbl,anchor=south east] (l23) at (4988,1658) {-desafio};
\node[mult,anchor=south west] (l24) at (4997,1658) {0..1};
\node[lbl,anchor=south east] (l25) at (5294,1658) {-situacao};
\node[mult,anchor=south west] (l26) at (5302,1658) {0..1};
\node[lbl,anchor=south east] (l27) at (4706,1824) {-usuario};
\node[mult,anchor=north east] (l28) at (4700,1834) {0..1};
\node[lbl,anchor=south east] (l29) at (2862,1291) {\#equacoes};
\node[mult,anchor=north east] (l30) at (2858,1304) {0..*};
\node[lbl,anchor=south west] (l31) at (2730,1160) {-repositorioEquacoesCurtidas};
\node[mult,anchor=north west] (l32) at (2734,1166) {0..1};
\node[lbl,anchor=south east] (l33) at (2616,1140) {-instance};
\node[mult,anchor=south west] (l34) at (2626,1140) {0..1};
\node[lbl,anchor=south east] (l35) at (3214,1140) {-repositorioUsuarios};
\node[lbl,anchor=south east] (l36) at (3150,1140) {-instance};
\node[mult,anchor=south west] (l37) at (3226,1140) {0..1};
\node[lbl,anchor=south east] (l38) at (3532,1140) {-repositorioEquacoes};
\node[lbl,anchor=south east] (l39) at (3480,1140) {-instance};
\node[mult,anchor=south west] (l40) at (3546,1140) {0..1};
\node[lbl,anchor=south east] (l41) at (5128,622) {\#lista};
\node[mult,anchor=north east] (l42) at (5124,634) {0..*};
\node[lbl,anchor=south west] (l43) at (2486,674) {-repositorioMedalhas};
\node[mult,anchor=north west] (l44) at (2488,682) {0..1};
\node[lbl,anchor=south west] (l45) at (5078,764) {-repositorioAmizade};
\node[mult,anchor=north west] (l46) at (5080,770) {0..1};
\end{tikzpicture}
\end{document}
